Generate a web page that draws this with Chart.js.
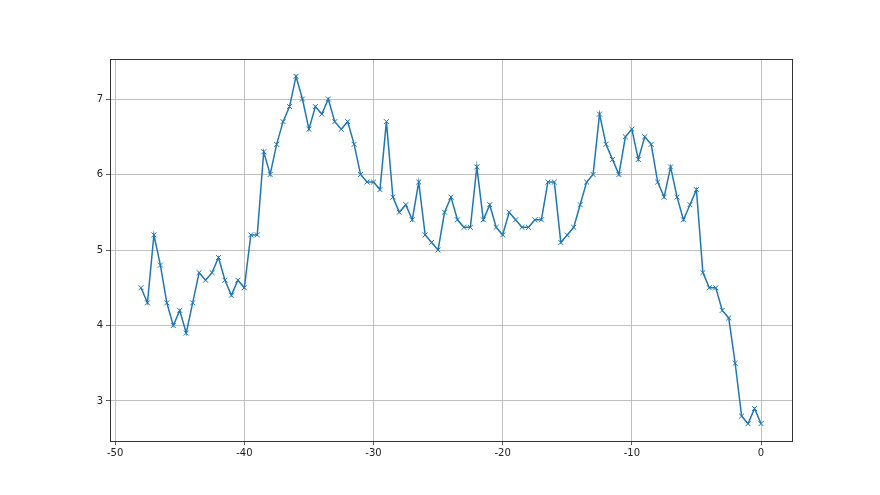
<!DOCTYPE html>
<html>
<head>
<meta charset="utf-8">
<script src="https://cdn.jsdelivr.net/npm/chart.js@4/dist/chart.umd.min.js"></script>
<style>
html,body{margin:0;padding:0;background:#fff;}
#wrap{width:880px;height:495px;}
</style>
</head>
<body>
<div id="wrap"><canvas id="c" width="880" height="495"></canvas></div>
<script>
const xStart = -48;
const xStep = 0.5;
const values = [
  4.5,4.3,5.2,4.8,4.3,4.0,4.2,3.9,4.3,4.7,4.6,4.7,4.9,4.6,4.4,4.6,4.5,
  5.2,5.2,6.3,6.0,6.4,6.7,6.9,7.3,7.0,6.6,6.9,6.8,7.0,6.7,6.6,6.7,6.4,6.0,5.9,5.9,
  5.8,6.7,5.7,5.5,5.6,5.4,5.9,5.2,5.1,5.0,5.5,5.7,5.4,5.3,5.3,6.1,5.4,5.6,5.3,5.2,
  5.5,5.4,5.3,5.3,5.4,5.4,5.9,5.9,5.1,5.2,5.3,5.6,5.9,6.0,6.8,6.4,6.2,6.0,6.5,6.6,
  6.2,6.5,6.4,5.9,5.7,6.1,5.7,5.4,5.6,5.8,4.7,4.5,4.5,4.2,4.1,3.5,2.8,2.7,2.9,2.7
];
const xTicks = [-50,-40,-30,-20,-10,0];
const yTicks = [3,4,5,6,7];

const points = values.map((v,i)=>({x: xStart + i*xStep, y: v}));

const framePlugin = {
  id: 'frame',
  beforeDraw(chart){
    const ctx = chart.ctx;
    ctx.save();
    ctx.fillStyle = '#fff';
    ctx.fillRect(0,0,chart.width,chart.height);
    ctx.restore();
  },
  afterDraw(chart){
    const a = chart.chartArea;
    const ctx = chart.ctx;
    ctx.save();
    ctx.strokeStyle = '#333';
    ctx.lineWidth = 1;
    ctx.strokeRect(Math.round(a.left)+0.5, Math.round(a.top)+0.5, Math.round(a.right-a.left), Math.round(a.bottom-a.top));
    ctx.restore();
  }
};

new Chart(document.getElementById('c'), {
  type: 'scatter',
  data: {
    datasets: [{
      data: points,
      showLine: true,
      borderColor: '#1f77b4',
      backgroundColor: '#1f77b4',
      borderWidth: 1.5,
      pointStyle: 'crossRot',
      pointRadius: 3.5,
      pointBorderWidth: 1,
      pointBorderColor: '#1f77b4',
      tension: 0
    }]
  },
  options: {
    responsive: false,
    animation: false,
    devicePixelRatio: 1,
    layout: { padding: { top: 59, right: 88, left: 0, bottom: 0 } },
    plugins: { legend: { display: false }, tooltip: { enabled: false } },
    scales: {
      x: {
        type: 'linear',
        min: -50.4,
        max: 2.4,
        afterBuildTicks: s => { s.ticks = xTicks.map(v => ({value: v})); },
        afterFit: s => { s.height = 54; },
        grid: { color: '#b0b0b0', lineWidth: 0.8, drawTicks: true, tickLength: 4, tickColor: '#333' },
        border: { display: false },
        ticks: { color: '#222', padding: 2, maxRotation: 0, font: { family: 'DejaVu Sans', size: 10 } }
      },
      y: {
        min: 2.47,
        max: 7.53,
        afterBuildTicks: s => { s.ticks = yTicks.map(v => ({value: v})); },
        afterFit: s => { s.width = 110; },
        grid: { color: '#b0b0b0', lineWidth: 0.8, drawTicks: true, tickLength: 4, tickColor: '#333' },
        border: { display: false },
        ticks: { color: '#222', padding: 3, font: { family: 'DejaVu Sans', size: 10 } }
      }
    }
  },
  plugins: [framePlugin]
});
</script>
</body>
</html>
